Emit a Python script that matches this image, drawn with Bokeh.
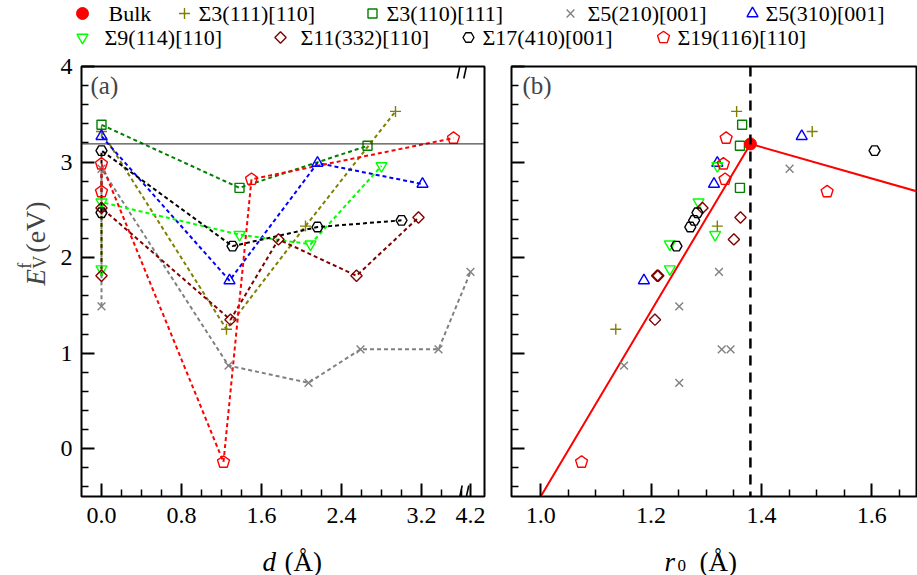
import math
from bokeh.plotting import figure
from bokeh.layouts import column, row
from bokeh.models import Range1d, FixedTicker, Span, Label, Arrow
from bokeh.core.properties import value
from bokeh.embed import file_html
from bokeh.resources import INLINE

# ---------------- data ----------------
names = ["Σ3(111)[110]", "Σ3(110)[111]", "Σ5(210)[001]", "Σ5(310)[001]",
         "Σ9(114)[110]", "Σ11(332)[110]", "Σ17(410)[001]", "Σ19(116)[110]"]

s3_111_d = [0.0, 1.25, 2.04, 2.94]
s3_111_E = [3.32, 1.25, 2.33, 3.53]
s3_111_r0 = [1.492, 1.136, 1.320, 1.355]

s3_110_d = [0.0, 1.38, 2.66]
s3_110_E = [3.39, 2.73, 3.17]
s3_110_r0 = [1.365, 1.361, 1.361]

s5_210_d = [0.0, 0.0, 1.27, 2.07, 2.59, 3.37, 4.2]
s5_210_E = [1.49, 2.93, 0.87, 0.69, 1.04, 1.04, 1.85]
s5_210_r0 = [1.251, 1.451, 1.151, 1.251, 1.328, 1.344, 1.323]

s5_310_d = [0.0, 1.28, 2.16, 3.21]
s5_310_E = [3.27, 1.76, 2.99, 2.77]
s5_310_r0 = [1.473, 1.187, 1.320, 1.314]

s9_d = [0.0, 0.0, 1.38, 2.09, 2.80]
s9_E = [1.88, 2.58, 2.24, 2.14, 2.96]
s9_r0 = [1.234, 1.286, 1.316, 1.234, 1.320]

s11_d = [0.0, 0.0, 1.29, 1.77, 2.55, 3.17]
s11_E = [1.81, 2.52, 1.35, 2.19, 1.81, 2.42]
s11_r0 = [1.211, 1.293, 1.207, 1.350, 1.213, 1.362]

s17_d = [0.0, 0.0, 1.31, 2.16, 3.00]
s17_E = [2.47, 3.12, 2.12, 2.32, 2.39]
s17_r0 = [1.284, 1.605, 1.246, 1.271, 1.278]

s19_d = [0.0, 0.0, 1.22, 1.50, 3.52]
s19_E = [2.69, 2.98, -0.14, 2.82, 3.25]
s19_r0 = [1.519, 1.331, 1.074, 1.334, 1.336]

bulk_r0 = [1.38]
bulk_E = [3.19]
fit_r0 = [1.0, 1.38, 1.69]
fit_E = [-0.5, 3.19, 2.68]

d_ticks = [0.0, 0.8, 1.6, 2.4, 3.2, 4.2]
d_tick_labels = ["0.0", "0.8", "1.6", "2.4", "3.2", "4.2"]
d_minor = [0.2, 0.4, 0.6, 1.0, 1.2, 1.4, 1.8, 2.0, 2.2, 2.6, 2.8, 3.0, 3.4, 3.6]
r_ticks = [1.0, 1.2, 1.4, 1.6]
r_tick_labels = ["1.0", "1.2", "1.4", "1.6"]
r_minor = [1.05, 1.10, 1.15, 1.25, 1.30, 1.35, 1.45, 1.50, 1.55, 1.65]
E_ticks = [0, 1, 2, 3, 4]
E_minor = [-0.4, -0.2, 0.2, 0.4, 0.6, 0.8, 1.2, 1.4, 1.6, 1.8, 2.2, 2.4, 2.6, 2.8,
           3.2, 3.4, 3.6, 3.8]

# broken d axis: values beyond the break are shifted left
BREAK_AT = 3.65
BREAK_SHIFT = 0.51


def d_disp(v):
    return v if v < BREAK_AT else v - BREAK_SHIFT


series = [
    dict(name=names[0], d=s3_111_d, E=s3_111_E, r0=s3_111_r0, color="#808000", marker="cross", size=11, angle=0.0),
    dict(name=names[1], d=s3_110_d, E=s3_110_E, r0=s3_110_r0, color="#008000", marker="square", size=9, angle=0.0),
    dict(name=names[2], d=s5_210_d, E=s5_210_E, r0=s5_210_r0, color="#808080", marker="x", size=11, angle=0.0),
    dict(name=names[3], d=s5_310_d, E=s5_310_E, r0=s5_310_r0, color="#0000ff", marker="triangle", size=11, angle=0.0),
    dict(name=names[4], d=s9_d, E=s9_E, r0=s9_r0, color="#00ff00", marker="inverted_triangle", size=11, angle=0.0),
    dict(name=names[5], d=s11_d, E=s11_E, r0=s11_r0, color="#800000", marker="square", size=8, angle=math.pi / 4),
    dict(name=names[6], d=s17_d, E=s17_E, r0=s17_r0, color="#000000", marker="hex", size=11, angle=0.0),
    dict(name=names[7], d=s19_d, E=s19_E, r0=s19_r0, color="#ff0000", marker="pentagon", size=6.3, angle=0.0),
]

SERIF = "Liberation Serif"

# ---------------- geometry (pixels) ----------------
W, H = 917, 575
LEG_H = 51
FRAME_TOP, FRAME_BOTTOM = 66, 496
MID_TOP = LEG_H
MID_H = (FRAME_TOP - MID_TOP) + (FRAME_BOTTOM - FRAME_TOP) + 40
STRIP_H = H - LEG_H - MID_H
A_LEFT, A_RIGHT = 81, 484
B_LEFT, B_RIGHT = 511, 916
YL_W = 50
PA_W = 497 - YL_W
PB_W = W - 497

A_XR = (-0.2, 3.83)
B_XR = (0.947, 1.681)
YR = (-0.5, 4.0)
A_KX = (A_RIGHT - A_LEFT) / (A_XR[1] - A_XR[0])
B_KX = (B_RIGHT - B_LEFT) / (B_XR[1] - B_XR[0])
KY = (FRAME_BOTTOM - FRAME_TOP) / (YR[1] - YR[0])


def ax_x(px):
    return A_XR[0] + (px - A_LEFT) / A_KX


def bx_x(px):
    return B_XR[0] + (px - B_LEFT) / B_KX


def ay(py):
    return YR[1] - (py - FRAME_TOP) / KY


def draw_marker(p, x, y, s, kx, ky):
    if s["marker"] == "pentagon":
        r = s["size"]
        xs, ys = [], []
        for cx, cy in zip(x, y):
            angs = [math.pi / 2 + 2 * math.pi * k / 5 for k in range(5)]
            xs.append([cx + r * math.cos(a) / kx for a in angs])
            ys.append([cy + r * math.sin(a) / ky for a in angs])
        p.patches(xs=xs, ys=ys, fill_color=None, line_color=s["color"], line_width=1.4)
    else:
        p.scatter(x=x, y=y, marker=s["marker"], size=s["size"], angle=s["angle"], fill_color=None,
                  line_color=s["color"], line_width=1.4)


def style_axes(p):
    p.xgrid.visible = False
    p.ygrid.visible = False
    p.outline_line_color = "black"
    p.outline_line_width = 2
    p.outline_line_alpha = 1
    for ax in (p.xaxis[0], p.yaxis[0]):
        ax.axis_line_color = None
        ax.major_tick_in = 13
        ax.major_tick_out = 0
        ax.minor_tick_in = 7
        ax.minor_tick_out = 0
        ax.major_tick_line_width = 2
        ax.minor_tick_line_width = 1.5
        ax.major_tick_line_color = "black"
        ax.minor_tick_line_color = "black"
        ax.major_label_text_font = SERIF
        ax.major_label_text_font_size = "24px"
        ax.major_label_text_color = "black"
    p.xaxis[0].major_label_standoff = 11
    p.yaxis[0].major_label_standoff = 9


def blank_fig(w, h, xr, yr):
    f = figure(width=w, height=h, x_range=Range1d(*xr), y_range=Range1d(*yr),
               x_axis_type=None, y_axis_type=None, output_backend="svg", toolbar_location=None,
               min_border=0, outline_line_color=None)
    f.xgrid.visible = False
    f.ygrid.visible = False
    return f


# ---------------- legend strip (data coords = page pixels) ----------------
leg = blank_fig(W, LEG_H, (0, W), (LEG_H, 0))
leg_marker_x = [82, 184, 372, 570, 752, 82, 280, 468, 663]
leg_text_x = [108, 198, 386, 587, 765, 104, 300, 482, 677]
leg_y = [13] * 5 + [37] * 4
leg.scatter(x=[leg_marker_x[0]], y=[leg_y[0]], marker="circle", size=12,
            fill_color="#ff0000", line_color="#ff0000")
leg.text(x=[leg_text_x[0]], y=[leg_y[0]], text=["Bulk"], text_font=value(SERIF),
         text_font_size="22px", text_baseline="middle", text_color="black")
for i, s in enumerate(series):
    draw_marker(leg, [leg_marker_x[i + 1]], [leg_y[i + 1]], s, 1.0, -1.0)
    leg.text(x=[leg_text_x[i + 1]], y=[leg_y[i + 1]], text=[s["name"]], text_font=value(SERIF),
             text_font_size="22px", text_baseline="middle", text_color="black")

# ---------------- y-label strip ----------------
yl = blank_fig(YL_W, MID_H, (0, YL_W), (MID_TOP + MID_H, MID_TOP))
ang = math.pi / 2
yl.add_layout(Label(x=35, y=298, text="E", text_font=SERIF, text_font_size="27px",
                    text_font_style="italic", angle=ang, text_baseline="alphabetic"))
yl.add_layout(Label(x=39, y=279, text="V", text_font=SERIF, text_font_size="18px",
                    angle=ang, text_baseline="alphabetic"))
yl.add_layout(Label(x=24, y=279, text="f", text_font=SERIF, text_font_size="18px",
                    angle=ang, text_baseline="alphabetic"))
yl.add_layout(Label(x=35, y=261, text="(eV)", text_font=SERIF, text_font_size="28px",
                    angle=ang, text_baseline="alphabetic"))

# ---------------- panel (a) ----------------
pa = figure(width=PA_W, height=MID_H, x_range=Range1d(*A_XR), y_range=Range1d(*YR),
            output_backend="svg", toolbar_location=None,
            min_border_left=A_LEFT - YL_W, min_border_right=497 - A_RIGHT,
            min_border_top=FRAME_TOP - MID_TOP, min_border_bottom=MID_TOP + MID_H - FRAME_BOTTOM)
style_axes(pa)
d_ticks_disp = [d_disp(v) for v in d_ticks]
pa.xaxis.ticker = FixedTicker(ticks=d_ticks_disp, minor_ticks=d_minor)
pa.xaxis.major_label_overrides = {t: lab for t, lab in zip(d_ticks_disp, d_tick_labels)}
pa.yaxis.ticker = FixedTicker(ticks=E_ticks, minor_ticks=E_minor)

pa.add_layout(Span(location=bulk_E[0], dimension="width", line_color="#202020", line_width=1))
for s in series:
    xd = [d_disp(v) for v in s["d"]]
    pa.line(x=xd, y=s["E"], line_color=s["color"], line_width=2, line_dash="4 3")
for s in series:
    xd = [d_disp(v) for v in s["d"]]
    draw_marker(pa, xd, s["E"], s, A_KX, KY)

# axis-break marks
for (x0, x1) in [(456.7, 461.7), (463.3, 468.3)]:
    pa.add_layout(Arrow(end=None, x_start=ax_x(x0), y_start=ay(78), x_end=ax_x(x1), y_end=ay(55),
                        line_color="black", line_width=1.6))
    pa.add_layout(Arrow(end=None, x_start=ax_x(x0), y_start=ay(508), x_end=ax_x(x1), y_end=ay(485),
                        line_color="black", line_width=1.6))

pa.add_layout(Label(x=ax_x(90), y=ay(71), text="(a)", text_font=SERIF, text_font_size="25px",
                    text_baseline="top", text_align="left"))

# ---------------- panel (b) ----------------
pb = figure(width=PB_W, height=MID_H, x_range=Range1d(*B_XR), y_range=Range1d(*YR),
            output_backend="svg", toolbar_location=None,
            min_border_left=B_LEFT - 497, min_border_right=W - B_RIGHT,
            min_border_top=FRAME_TOP - MID_TOP, min_border_bottom=MID_TOP + MID_H - FRAME_BOTTOM)
style_axes(pb)
pb.xaxis.ticker = FixedTicker(ticks=r_ticks, minor_ticks=r_minor)
pb.xaxis.major_label_overrides = {t: lab for t, lab in zip(r_ticks, r_tick_labels)}
pb.yaxis.ticker = FixedTicker(ticks=E_ticks, minor_ticks=E_minor)
pb.yaxis.major_label_overrides = {t: "" for t in E_ticks}

pb.add_layout(Span(location=bulk_r0[0], dimension="height", line_color="black", line_width=2.5,
                   line_dash="10 7"))
pb.line(x=fit_r0, y=fit_E, line_color="#ff0000", line_width=2)
for s in series:
    draw_marker(pb, s["r0"], s["E"], s, B_KX, KY)
pb.scatter(x=bulk_r0, y=bulk_E, marker="circle", size=12, fill_color="#ff0000", line_color="#ff0000")

pb.add_layout(Label(x=bx_x(522), y=ay(71), text="(b)", text_font=SERIF, text_font_size="25px",
                    text_baseline="top", text_align="left"))

# ---------------- x-label strip (data coords = page pixels) ----------------
xl = blank_fig(W, STRIP_H, (0, W), (H, H - STRIP_H))
xl.text(x=[262], y=[561], text=["d"], text_font=value(SERIF), text_font_size="27px",
        text_font_style="italic", text_baseline="alphabetic")
xl.text(x=[284], y=[561], text=["(Å)"], text_font=value(SERIF), text_font_size="27px",
        text_baseline="alphabetic")
xl.text(x=[664], y=[561], text=["r"], text_font=value(SERIF), text_font_size="27px",
        text_font_style="italic", text_baseline="alphabetic")
xl.text(x=[677], y=[565], text=["0"], text_font=value(SERIF), text_font_size="17px",
        text_baseline="alphabetic")
xl.text(x=[699], y=[561], text=["(Å)"], text_font=value(SERIF), text_font_size="27px",
        text_baseline="alphabetic")

layout = column(leg, row(yl, pa, pb, spacing=0), xl, spacing=0)
open("out.html", "w").write(file_html(layout, INLINE))
